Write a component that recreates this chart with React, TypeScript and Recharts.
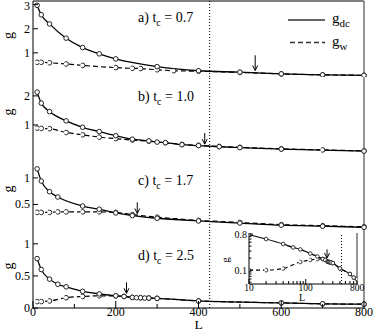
import { LineChart, Line, XAxis, YAxis, ReferenceLine, ReferenceDot } from "recharts";

const FONT = '"Liberation Serif", "Times New Roman", serif';

// shared L axis
const lTicks = [0, 100, 200, 300, 400, 500, 600, 700, 800];
const dottedL = 427;

// a) t_c = 0.7
const aDcL = [10, 20, 40, 80, 120, 160, 200, 300, 400, 500, 600, 700, 800];
const aDcG = [2.97, 2.58, 2.2, 1.61, 1.22, 0.96, 0.75, 0.43, 0.26, 0.2, 0.13, 0.09, 0.07];
const aWL = [10, 20, 40, 80, 120, 200, 240, 260, 300, 340, 400, 500, 600, 700, 800];
const aWG = [0.61, 0.61, 0.59, 0.54, 0.48, 0.39, 0.36, 0.35, 0.3, 0.26, 0.24, 0.19, 0.13, 0.09, 0.07];

// b) t_c = 1.0
const bDcL = [10, 20, 40, 80, 120, 160, 200, 240, 280, 300, 320, 360, 400, 450, 500, 600, 800];
const bDcG = [2.13, 1.75, 1.46, 1.14, 0.92, 0.77, 0.63, 0.51, 0.45, 0.41, 0.39, 0.32, 0.29, 0.25, 0.22, 0.17, 0.1];
const bWL = [10, 20, 40, 80, 120, 160, 200, 240, 280, 320, 360, 400, 450, 500, 600, 700, 800];
const bWG = [0.89, 0.88, 0.87, 0.74, 0.66, 0.58, 0.53, 0.48, 0.44, 0.39, 0.33, 0.3, 0.26, 0.23, 0.18, 0.14, 0.11];

// c) t_c = 1.7
const cDcL = [10, 20, 40, 60, 120, 160, 200, 240, 300, 400, 500, 600, 700, 800];
const cDcG = [1.17, 0.94, 0.74, 0.64, 0.47, 0.41, 0.34, 0.29, 0.24, 0.19, 0.15, 0.11, 0.09, 0.07];
const cWL = [10, 20, 40, 60, 80, 120, 160, 200, 240, 300, 400, 500, 600, 700, 800];
const cWG = [0.35, 0.35, 0.35, 0.36, 0.36, 0.36, 0.36, 0.35, 0.31, 0.26, 0.2, 0.16, 0.12, 0.1, 0.08];

// d) t_c = 2.5
const dDcL = [10, 20, 40, 60, 80, 120, 160, 200, 220, 240, 250, 260, 270, 280, 300, 400, 600, 700, 800];
const dDcG = [0.77, 0.6, 0.45, 0.37, 0.33, 0.26, 0.22, 0.19, 0.18, 0.165, 0.16, 0.16, 0.155, 0.155, 0.15, 0.11, 0.08, 0.065, 0.06];
const dWL = [10, 20, 40, 80, 120, 160, 200, 220, 240, 260, 280, 300, 400, 600, 700, 800];
const dWG = [0.1, 0.1, 0.11, 0.16, 0.18, 0.19, 0.19, 0.18, 0.165, 0.16, 0.155, 0.15, 0.11, 0.08, 0.065, 0.06];

const yMax = [3.15, 2.65, 1.45, 1.2];
const yTicks = [[1, 2, 3], [1, 2], [0.5, 1], [0, 0.5, 1]];
const tcValues = ["0.7", "1.0", "1.7", "2.5"];
const panelTags = ["a)", "b)", "c)", "d)"];

// arrows marking the crossover
const arrowL = [537, 415, 252, 226];
const arrowTop = [0.9, 0.72, 0.54, 0.4];
const arrowTip = [0.27, 0.34, 0.33, 0.23];

// inset: panel d on log-log axes
const insetLTicks = [10, 20, 30, 40, 50, 60, 70, 80, 90, 100, 200, 300, 400, 500, 600, 700, 800];
const insetLLabels = [10, 100, 800];
const insetGTicks = [0.05, 0.06, 0.07, 0.08, 0.09, 0.1, 0.2, 0.3, 0.4, 0.5, 0.6, 0.7, 0.8];
const insetGLabels = [0.1, 0.8];
const insetArrowL = 237;
const insetArrowTop = 0.33;
const insetArrowTip = 0.2;

const pts = (L: number[], g: number[]) => L.map((v, i) => ({ L: v, g: g[i] }));

const panels = [
  { dc: pts(aDcL, aDcG), w: pts(aWL, aWG) },
  { dc: pts(bDcL, bDcG), w: pts(bWL, bWG) },
  { dc: pts(cDcL, cDcG), w: pts(cWL, cWG) },
  { dc: pts(dDcL, dDcG), w: pts(dWL, dWG) },
];

const xTick = (showLabel: boolean) => (p: any) => {
  const v = p.payload.value;
  const major = v % 200 === 0;
  return (
    <g>
      <line x1={p.x} y1={p.y} x2={p.x} y2={p.y - (major ? 7 : 4)} stroke="#000" />
      {showLabel && major && (
        <text x={p.x} y={p.y + 7.5} textAnchor="middle" fontSize={12} fontFamily={FONT} fill="#000">
          {v}
        </text>
      )}
    </g>
  );
};

// label baseline kept inside the page for the top-most tick
const yTickLeft = (p: any) => (
  <g>
    <line x1={p.x} y1={p.y} x2={p.x + 5} y2={p.y} stroke="#000" />
    <text x={p.x - 3} y={Math.max(p.y + 4, 10)} textAnchor="end" fontSize={12} fontFamily={FONT} fill="#000">
      {p.payload.value}
    </text>
  </g>
);

const yTickRight = (p: any) => (
  <line x1={p.x} y1={p.y} x2={p.x - 5} y2={p.y} stroke="#000" />
);

const arrowHead = (p: any) => (
  <path
    d={`M${p.cx - 2.5},${p.cy - 5}L${p.cx},${p.cy}L${p.cx + 2.5},${p.cy - 5}`}
    fill="none"
    stroke="#000"
  />
);

const dotStyle = { r: 2.3, stroke: "#222", strokeWidth: 1, fill: "#fff" };

const panelTop = [0, 77, 154, 231];
const panelHeight = [77, 77, 77, 101];

function Panel({ i }: { i: number }) {
  const last = i === 3;
  return (
    <div style={{ position: "absolute", left: 0, top: panelTop[i] }}>
      <LineChart width={374} height={panelHeight[i]} margin={{ top: 0, right: 0, bottom: 0, left: 0 }}>
        <XAxis
          type="number"
          dataKey="L"
          domain={[0, 800]}
          ticks={lTicks}
          interval={0}
          tickSize={0}
          tickMargin={0}
          tickLine={false}
          height={last ? 24 : 0}
          stroke="#000"
          tick={xTick(last)}
        />
        {i === 0 && (
          <XAxis xAxisId="top" orientation="top" type="number" domain={[0, 800]} height={1} tick={false} tickLine={false} stroke="#000" />
        )}
        <YAxis
          yAxisId="l"
          type="number"
          domain={[0, yMax[i]]}
          ticks={yTicks[i]}
          interval={0}
          width={33}
          tickSize={0}
          tickMargin={0}
          tickLine={false}
          stroke="#000"
          tick={yTickLeft}
          label={{ value: "g", angle: -90, position: "insideLeft", offset: 8, fontSize: 14, fontFamily: FONT, fill: "#000" }}
        />
        <YAxis
          yAxisId="r"
          orientation="right"
          type="number"
          domain={[0, yMax[i]]}
          ticks={yTicks[i]}
          interval={0}
          width={10}
          tickSize={0}
          tickMargin={0}
          tickLine={false}
          stroke="#7a7a7a"
          strokeWidth={1.6}
          tick={yTickRight}
        />
        <ReferenceLine yAxisId="l" x={dottedL} stroke="#000" strokeDasharray="1 2" />
        <ReferenceLine
          yAxisId="l"
          segment={[{ x: arrowL[i], y: arrowTop[i] }, { x: arrowL[i], y: arrowTip[i] }]}
          stroke="#000"
        />
        <ReferenceDot yAxisId="l" x={arrowL[i]} y={arrowTip[i]} shape={arrowHead} />
        <Line
          yAxisId="l"
          data={panels[i].w}
          dataKey="g"
          type="monotone"
          stroke="#000"
          strokeWidth={1.2}
          strokeDasharray="5 3"
          dot={dotStyle}
          activeDot={false}
          isAnimationActive={false}
        />
        <Line
          yAxisId="l"
          data={panels[i].dc}
          dataKey="g"
          type="monotone"
          stroke="#000"
          strokeWidth={1.3}
          dot={dotStyle}
          activeDot={false}
          isAnimationActive={false}
        />
      </LineChart>
    </div>
  );
}

const insetXTick = (p: any) => {
  const v = p.payload.value;
  const major = v === 10 || v === 100;
  return (
    <g>
      <line x1={p.x} y1={p.y} x2={p.x} y2={p.y - (major ? 5 : 3)} stroke="#000" />
      {insetLLabels.includes(v) && (
        <text x={p.x} y={p.y + 7} textAnchor="middle" fontSize={9.5} fontFamily={FONT} fill="#000">
          {v}
        </text>
      )}
    </g>
  );
};

const insetYTick = (p: any) => {
  const v = p.payload.value;
  const labelled = insetGLabels.includes(v);
  return (
    <g>
      <line x1={p.x} y1={p.y} x2={p.x + (labelled ? 4 : 2.5)} y2={p.y} stroke="#000" />
      {labelled && (
        <text x={p.x - 2} y={p.y + 3.5} textAnchor="end" fontSize={10} fontFamily={FONT} fill="#000">
          {v}
        </text>
      )}
    </g>
  );
};

function Inset() {
  const small = { r: 1.8, stroke: "#222", strokeWidth: 0.9, fill: "#fff" };
  return (
    <div style={{ position: "absolute", left: 218, top: 228 }}>
      <LineChart width={154} height={76} margin={{ top: 5, right: 10, bottom: 4, left: 0 }}>
        <XAxis
          xAxisId="b"
          type="number"
          scale="log"
          dataKey="L"
          domain={[10, 800]}
          allowDataOverflow
          ticks={insetLTicks}
          interval={0}
          tickSize={0}
          tickMargin={0}
          tickLine={false}
          height={16}
          stroke="#000"
          tick={insetXTick}
        />
        <XAxis xAxisId="t" orientation="top" type="number" scale="log" domain={[10, 800]} allowDataOverflow height={0} tick={false} tickLine={false} stroke="#000" />
        <YAxis
          yAxisId="l"
          type="number"
          scale="log"
          domain={[0.045, 0.85]}
          allowDataOverflow
          ticks={insetGTicks}
          interval={0}
          width={31}
          tickSize={0}
          tickMargin={0}
          tickLine={false}
          stroke="#000"
          tick={insetYTick}
        />
        <YAxis yAxisId="r" orientation="right" type="number" scale="log" domain={[0.045, 0.85]} allowDataOverflow width={5} tick={false} tickLine={false} stroke="#7a7a7a" strokeWidth={1.6} />
        <ReferenceLine xAxisId="b" yAxisId="l" x={dottedL} stroke="#000" strokeDasharray="1 2" />
        <ReferenceLine
          xAxisId="b"
          yAxisId="l"
          segment={[{ x: insetArrowL, y: insetArrowTop }, { x: insetArrowL, y: insetArrowTip }]}
          stroke="#000"
        />
        <ReferenceDot xAxisId="b" yAxisId="l" x={insetArrowL} y={insetArrowTip} shape={arrowHead} />
        <Line xAxisId="b" yAxisId="l" data={panels[3].w} dataKey="g" type="monotone" stroke="#000" strokeWidth={1.1} strokeDasharray="4 3" dot={small} activeDot={false} isAnimationActive={false} />
        <Line xAxisId="b" yAxisId="l" data={panels[3].dc} dataKey="g" type="monotone" stroke="#000" strokeWidth={1.2} dot={small} activeDot={false} isAnimationActive={false} />
      </LineChart>
    </div>
  );
}

const titleY = [22, 101, 185, 260];

export default function App() {
  return (
    <div style={{ position: "absolute", left: 0, top: 0, width: 374, height: 332, background: "#fff" }}>
      {[0, 1, 2, 3].map((i) => (
        <Panel key={i} i={i} />
      ))}
      <Inset />
      <svg width={374} height={332} style={{ position: "absolute", left: 0, top: 0, pointerEvents: "none" }}>
        {titleY.map((y, i) => (
          <text key={i} x={138} y={y} fontSize={14} fontFamily={FONT} fill="#000">
            {panelTags[i]} t
            <tspan fontSize={10} dy={4}>c</tspan>
            <tspan dy={-4}> = {tcValues[i]}</tspan>
          </text>
        ))}
        <line x1={288} x2={325} y1={20} y2={20} stroke="#333" strokeWidth={1.5} />
        <text x={332} y={23} fontSize={15} fontFamily={FONT} fill="#000">
          g<tspan fontSize={11} dy={4}>dc</tspan>
        </text>
        <line x1={290} x2={325} y1={42.5} y2={42.5} stroke="#333" strokeWidth={1.5} strokeDasharray="5 3" />
        <text x={332} y={46} fontSize={15} fontFamily={FONT} fill="#000">
          g<tspan fontSize={11} dy={4}>w</tspan>
        </text>
        <text x={198.5} y={329} textAnchor="middle" fontSize={13.5} fontFamily={FONT} fill="#000">
          L
        </text>
        <text x={302} y={301} textAnchor="middle" fontSize={10} fontFamily={FONT} fill="#000">
          L
        </text>
        <text x={229} y={260} textAnchor="middle" fontSize={11} fontFamily={FONT} fill="#000" transform="rotate(-90 229 260)">
          g
        </text>
      </svg>
    </div>
  );
}
